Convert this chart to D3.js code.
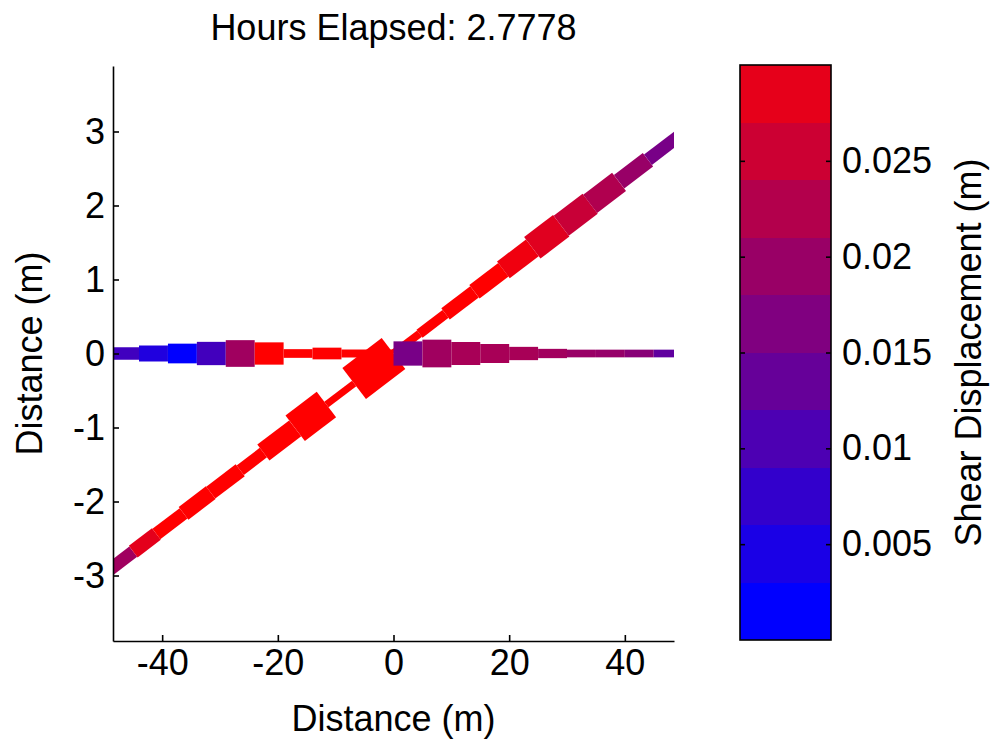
<!DOCTYPE html>
<html><head><meta charset="utf-8">
<script src="https://cdn.jsdelivr.net/npm/d3@7"></script>
<style>body{margin:0;background:#fff}svg text{font-family:"Liberation Sans",Arial,Helvetica,sans-serif;fill:#000}</style>
</head><body>
<svg id="chart" width="995" height="744"></svg>
<script>
// ---------- data ----------
const titleText = "Hours Elapsed: 2.7778";
const xLabel = "Distance (m)";
const yLabel = "Distance (m)";
const cbLabel = "Shear Displacement (m)";
const xTicks = [-40, -20, 0, 20, 40];
const yTicks = [-3, -2, -1, 0, 1, 2, 3];
const cbTicks = [0.005, 0.01, 0.015, 0.02, 0.025];
const cbLevels = [0, 0.003, 0.006, 0.009, 0.012, 0.015, 0.018, 0.021, 0.024, 0.027];

// horizontal fracture (y = 0): element start / end (m), shear displacement (m), opening (mm)
const hStart   = [-50, -44, -39, -34, -29, -24, -19, -14, -9, -4.5, 0, 5, 10, 15, 20, 25, 30, 35, 40, 45];
const hEnd     = [-44, -39, -34, -29, -24, -19, -14, -9, -4.5, 0, 5, 10, 15, 20, 25, 30, 35, 40, 45, 50];
const hShear   = [0.0075, 0.0038, 0.0, 0.0078, 0.0188, 0.031, 0.031, 0.031, 0.031, 0.031,
                  0.0141, 0.0188, 0.0198, 0.0198, 0.0198, 0.0190, 0.0180, 0.0176, 0.0160, 0.0113];
const hOpening = [1.27, 1.6, 1.97, 2.33, 2.67, 2.23, 0.87, 1.17, 0.8, 0.8,
                  2.43, 2.77, 2.3, 1.9, 1.33, 0.93, 0.77, 0.77, 0.77, 0.77];

// inclined fracture (y = slope * x): element start / end (m along x), shear (m), opening (mm)
const dSlope   = 0.0595;
const dStart   = [-50, -45, -41, -36.3, -31.6, -26.5, -22.5, -17, -11.6, -6.8, 0, 4.5, 9, 14, 19, 24, 29, 34, 39, 44];
const dEnd     = [-45, -41, -36.3, -31.6, -26.5, -22.5, -17, -11.6, -6.8, 0, 4.5, 9, 14, 19, 24, 29, 34, 39, 44, 50];
const dShear   = [0.0188, 0.0268, 0.031, 0.031, 0.031, 0.031, 0.031, 0.031, 0.031, 0.031,
                  0.031, 0.031, 0.031, 0.031, 0.0282, 0.0264, 0.0235, 0.0207, 0.0179, 0.0141];
const dOpening = [1.3, 1.45, 1.3, 1.6, 1.5, 1.2, 2.0, 3.2, 0.7, 3.9,
                  0.8, 1.0, 1.4, 1.7, 2.1, 2.7, 2.5, 2.3, 1.7, 1.3];

// ---------- layout ----------
const svg = d3.select("#chart");
const plot = {left: 113, right: 674, top: 66, bottom: 641};
const cb = {left: 740, right: 831, top: 65, bottom: 640};
const fontSize = 36;

const x = d3.scaleLinear().domain([-48.5, 48.5]).range([plot.left, plot.right]);
const y = d3.scaleLinear().domain([-3.885, 3.885]).range([plot.bottom, plot.top]);
const color = d3.scaleLinear().domain([0, 0.03]).range(["#0000ff", "#ff0000"]).clamp(true);
const widthScale = d3.scaleLinear().domain([0, 1]).range([0, 10]);
const cbY = d3.scaleLinear().domain([0, 0.03]).range([cb.bottom, cb.top]);

svg.append("defs").append("clipPath").attr("id", "clip")
  .append("rect").attr("x", plot.left).attr("y", plot.top)
  .attr("width", plot.right - plot.left).attr("height", plot.bottom - plot.top);

const g = svg.append("g").attr("clip-path", "url(#clip)");

const dData = dStart.map((s, i) => ({x0: s, x1: dEnd[i], y0: dSlope * s, y1: dSlope * dEnd[i], v: dShear[i], w: dOpening[i]}));
const hData = hStart.map((s, i) => ({x0: s, x1: hEnd[i], y0: 0, y1: 0, v: hShear[i], w: hOpening[i]}));

function drawFracture(data) {
  g.append("g").selectAll("line").data(data).join("line")
    .attr("x1", d => x(d.x0)).attr("y1", d => y(d.y0))
    .attr("x2", d => x(d.x1)).attr("y2", d => y(d.y1))
    .attr("stroke", d => color(d.v))
    .attr("stroke-width", d => widthScale(d.w))
    .attr("stroke-linecap", "butt");
}
drawFracture(dData);
drawFracture(hData);

// axes
const fmt = d => d < 0 ? "-" + Math.abs(d) : String(d);
const xAxis = d3.axisBottom(x).tickValues(xTicks).tickSizeInner(-6).tickSizeOuter(0).tickPadding(8).tickFormat(fmt);
const yAxis = d3.axisLeft(y).tickValues(yTicks).tickSizeInner(-6).tickSizeOuter(0).tickPadding(8).tickFormat(fmt);

const gx = svg.append("g").attr("transform", `translate(0,${plot.bottom})`).call(xAxis);
const gy = svg.append("g").attr("transform", `translate(${plot.left},0)`).call(yAxis);
[gx, gy].forEach(a => {
  a.selectAll("path").attr("stroke", "#000").attr("stroke-width", 1.6);
  a.selectAll("line").attr("stroke", "#000").attr("stroke-width", 1.6);
  a.selectAll("text").attr("font-size", fontSize).attr("font-family", "Liberation Sans, Arial, sans-serif");
});

// titles
svg.append("text").attr("x", (plot.left + plot.right) / 2).attr("y", 40)
  .attr("text-anchor", "middle").attr("font-size", fontSize).text(titleText);
svg.append("text").attr("x", (plot.left + plot.right) / 2).attr("y", 731)
  .attr("text-anchor", "middle").attr("font-size", fontSize).text(xLabel);
svg.append("text").attr("transform", `translate(42,${(plot.top + plot.bottom) / 2}) rotate(-90)`)
  .attr("text-anchor", "middle").attr("font-size", fontSize).text(yLabel);

// colorbar
const cbG = svg.append("g");
cbG.selectAll("rect.band").data(cbLevels).join("rect").attr("class", "band")
  .attr("x", cb.left).attr("width", cb.right - cb.left)
  .attr("y", d => cbY(d + 0.003)).attr("height", d => cbY(d) - cbY(d + 0.003))
  .attr("fill", d => color(d)).attr("shape-rendering", "crispEdges");
cbG.append("rect").attr("x", cb.left).attr("y", cb.top)
  .attr("width", cb.right - cb.left).attr("height", cb.bottom - cb.top)
  .attr("fill", "none").attr("stroke", "#000").attr("stroke-width", 1.6);
const cbAxisL = d3.axisLeft(cbY).tickValues(cbTicks).tickSizeInner(-5).tickSizeOuter(0).tickFormat("");
const cbAxisR = d3.axisRight(cbY).tickValues(cbTicks).tickSizeInner(-5).tickSizeOuter(0).tickPadding(11)
  .tickFormat(d => String(+d.toFixed(3)));
const gcl = cbG.append("g").attr("transform", `translate(${cb.left},0)`).call(cbAxisL);
const gcr = cbG.append("g").attr("transform", `translate(${cb.right},0)`).call(cbAxisR);
[gcl, gcr].forEach(a => {
  a.select("path").remove();
  a.selectAll("line").attr("stroke", "#000").attr("stroke-width", 1.6);
  a.selectAll("text").attr("font-size", fontSize).attr("font-family", "Liberation Sans, Arial, sans-serif");
});
svg.append("text").attr("transform", `translate(981,${(cb.top + cb.bottom) / 2}) rotate(-90)`)
  .attr("text-anchor", "middle").attr("font-size", fontSize).text(cbLabel);
</script>
</body></html>
